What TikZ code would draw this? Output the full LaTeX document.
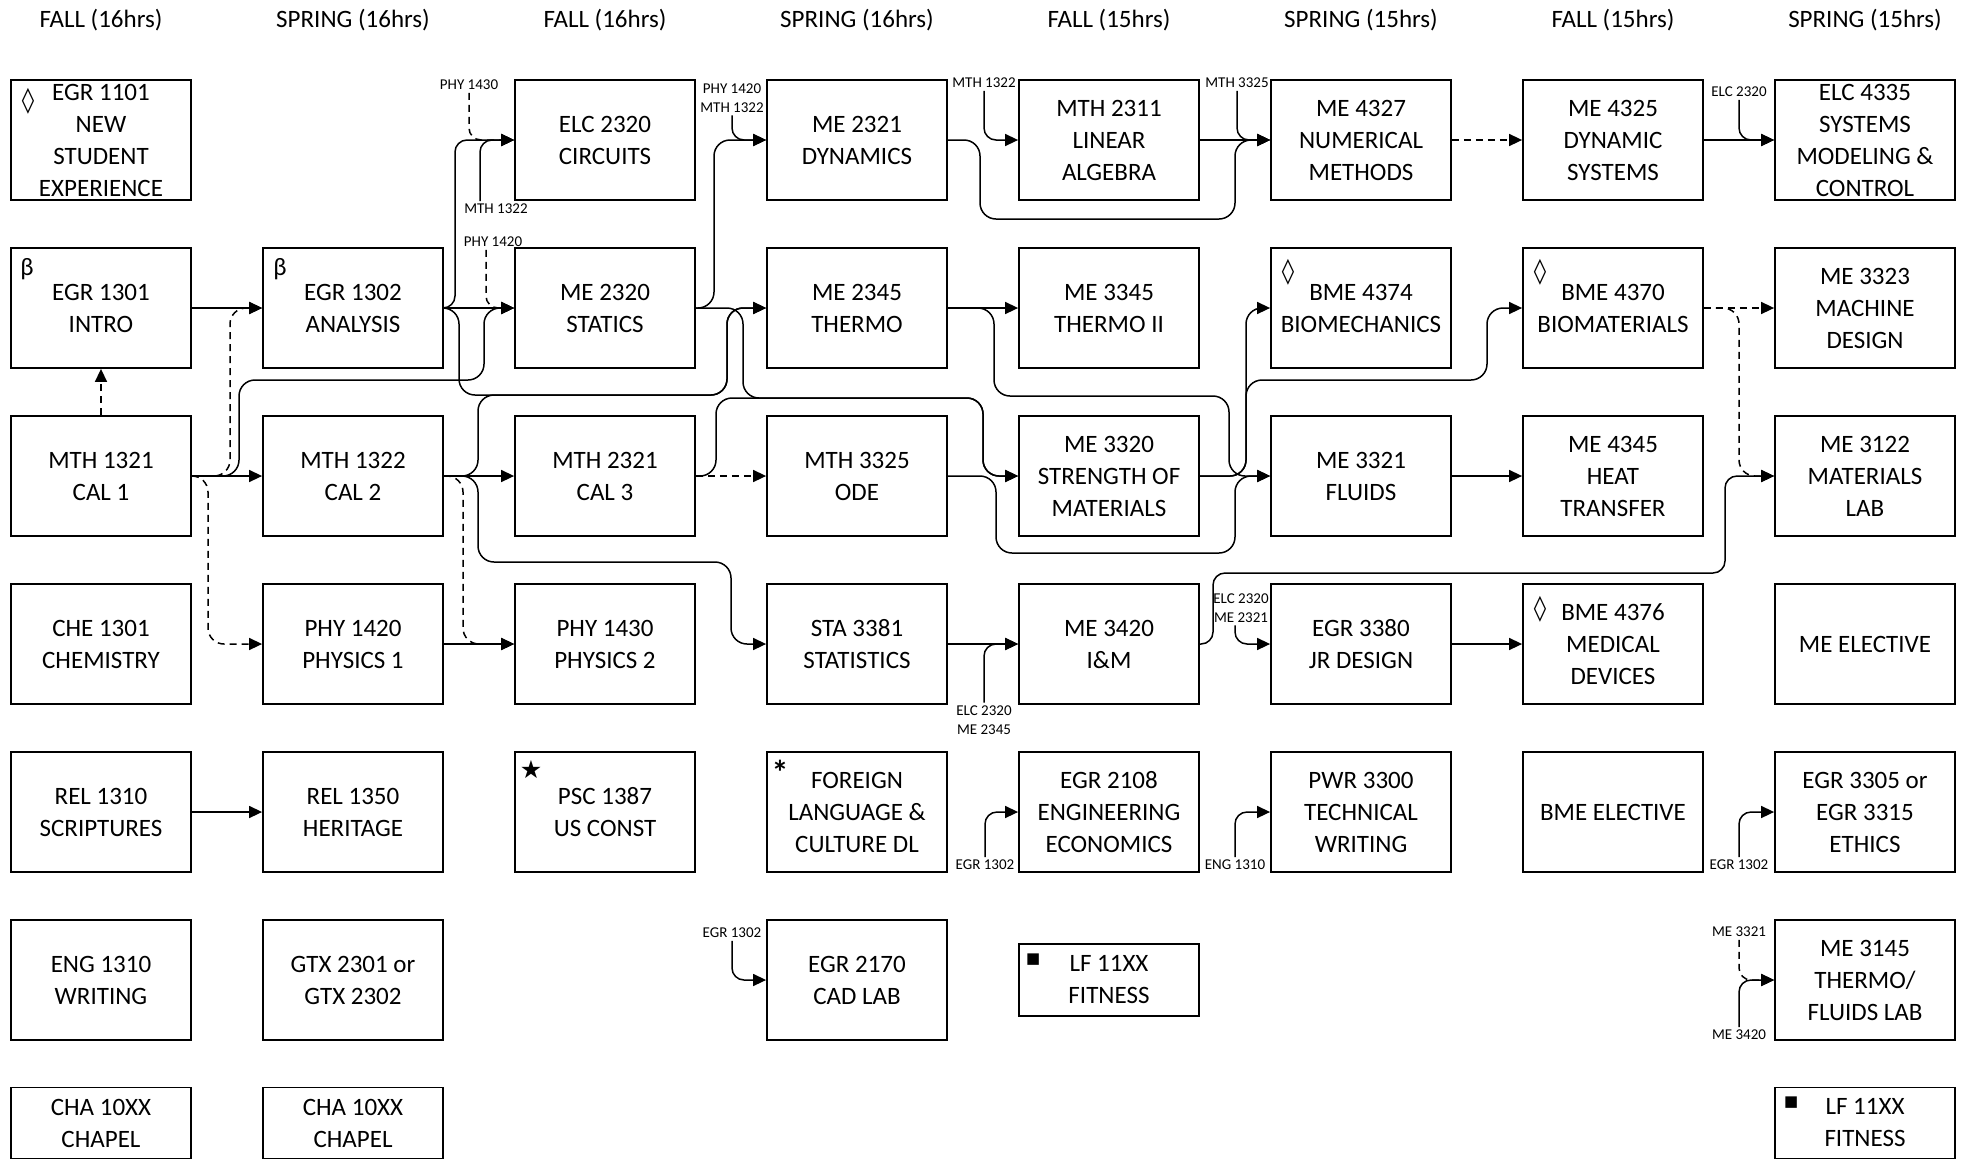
\documentclass[tikz,border=0pt]{standalone}
\usepackage{fontspec}
\setmainfont{Carlito}
\newfontfamily\symbolfont{DejaVu Sans}
\usepackage{tikz}
\usetikzlibrary{arrows.meta,positioning}

\begin{document}
\begin{tikzpicture}[x=1pt,y=-1pt,
  course/.style={draw,line width=1.8pt,minimum width=180pt,minimum height=120pt,
    inner sep=0pt,align=center,font=\fontsize{25}{32}\selectfont},
  low/.style={course,minimum height=71pt},
  term/.style={font=\fontsize{25}{30}\selectfont},
  prereq/.style={align=center,inner sep=0pt,outer sep=3pt,font=\fontsize{15}{19}\selectfont},
  icon/.style={inner sep=0pt,font=\symbolfont\bfseries\fontsize{25}{25}\selectfont},
  link/.style={line width=1.5pt,rounded corners=16pt,-{Triangle[length=13pt,width=12pt]}},
  opt/.style={link,dash pattern=on 7pt off 5pt},
  stub/.style={rounded corners=12pt}]

\useasboundingbox (0,0) rectangle (1969,1160);

% semester headings
\foreach \t [count=\i] in {FALL (16hrs),SPRING (16hrs),FALL (16hrs),SPRING (16hrs),
    FALL (15hrs),SPRING (15hrs),FALL (15hrs),SPRING (15hrs)}
  \node[term] (term\i) at ({101+252*(\i-1)},20) {\t};

% year 1
\node[course] (egr1101) at (101,140) {EGR 1101\\NEW\\STUDENT\\EXPERIENCE};
\node[course] (egr1301) at (101,308) {EGR 1301\\INTRO};
\node[course] (mth1321) at (101,476) {MTH 1321\\CAL 1};
\node[course] (che1301) at (101,644) {CHE 1301\\CHEMISTRY};
\node[course] (rel1310) at (101,812) {REL 1310\\SCRIPTURES};
\node[course] (eng1310) at (101,980) {ENG 1310\\WRITING};
\node[low] (cha1) at (101,1123) {CHA 10XX\\CHAPEL};
\node[course] (egr1302) at (353,308) {EGR 1302\\ANALYSIS};
\node[course] (mth1322) at (353,476) {MTH 1322\\CAL 2};
\node[course] (phy1420) at (353,644) {PHY 1420\\PHYSICS 1};
\node[course] (rel1350) at (353,812) {REL 1350\\HERITAGE};
\node[course] (gtx) at (353,980) {GTX 2301 or\\GTX 2302};
\node[low] (cha2) at (353,1123) {CHA 10XX\\CHAPEL};

% year 2
\node[course] (elc2320) at (605,140) {ELC 2320\\CIRCUITS};
\node[course] (me2320) at (605,308) {ME 2320\\STATICS};
\node[course] (mth2321) at (605,476) {MTH 2321\\CAL 3};
\node[course] (phy1430) at (605,644) {PHY 1430\\PHYSICS 2};
\node[course] (psc1387) at (605,812) {PSC 1387\\US CONST};
\node[course] (me2321) at (857,140) {ME 2321\\DYNAMICS};
\node[course] (me2345) at (857,308) {ME 2345\\THERMO};
\node[course] (mth3325) at (857,476) {MTH 3325\\ODE};
\node[course] (sta3381) at (857,644) {STA 3381\\STATISTICS};
\node[course] (flang) at (857,812) {FOREIGN\\LANGUAGE \&\\CULTURE DL};
\node[course] (egr2170) at (857,980) {EGR 2170\\CAD LAB};

% year 3
\node[course] (mth2311) at (1109,140) {MTH 2311\\LINEAR\\ALGEBRA};
\node[course] (me3345) at (1109,308) {ME 3345\\THERMO II};
\node[course] (me3320) at (1109,476) {ME 3320\\STRENGTH OF\\MATERIALS};
\node[course] (me3420) at (1109,644) {ME 3420\\I\&M};
\node[course] (egr2108) at (1109,812) {EGR 2108\\ENGINEERING\\ECONOMICS};
\node[course,minimum height=72pt] (lf1) at (1109,980) {LF 11XX\\FITNESS};
\node[course] (me4327) at (1361,140) {ME 4327\\NUMERICAL\\METHODS};
\node[course] (bme4374) at (1361,308) {BME 4374\\BIOMECHANICS};
\node[course] (me3321) at (1361,476) {ME 3321\\FLUIDS};
\node[course] (egr3380) at (1361,644) {EGR 3380\\JR DESIGN};
\node[course] (pwr3300) at (1361,812) {PWR 3300\\TECHNICAL\\WRITING};

% year 4
\node[course] (me4325) at (1613,140) {ME 4325\\DYNAMIC\\SYSTEMS};
\node[course] (bme4370) at (1613,308) {BME 4370\\BIOMATERIALS};
\node[course] (me4345) at (1613,476) {ME 4345\\HEAT\\TRANSFER};
\node[course] (bme4376) at (1613,644) {BME 4376\\MEDICAL\\DEVICES};
\node[course] (bmeel) at (1613,812) {BME ELECTIVE};
\node[course] (elc4335) at (1865,140) {ELC 4335\\SYSTEMS\\MODELING \&\\CONTROL};
\node[course] (me3323) at (1865,308) {ME 3323\\MACHINE\\DESIGN};
\node[course] (me3122) at (1865,476) {ME 3122\\MATERIALS\\LAB};
\node[course] (meel) at (1865,644) {ME ELECTIVE};
\node[course] (egr3305) at (1865,812) {EGR 3305 or\\EGR 3315\\ETHICS};
\node[course] (me3145) at (1865,980) {ME 3145\\THERMO/\\FLUIDS LAB};
\node[low] (lf2) at (1865,1123) {LF 11XX\\FITNESS};

% marks
\node[icon] (mk1101) at ([xshift=18pt,yshift=-22pt]egr1101.north west) {◊};
\node[inner sep=0pt,font=\fontsize{25}{25}\selectfont] (mk1301) at ([xshift=17pt,yshift=-22pt]egr1301.north west) {β};
\node[inner sep=0pt,font=\fontsize{25}{25}\selectfont] (mk1302) at ([xshift=18pt,yshift=-22pt]egr1302.north west) {β};
\node[icon] (mk4374) at ([xshift=18pt,yshift=-25pt]bme4374.north west) {◊};
\node[icon] (mk4370) at ([xshift=18pt,yshift=-25pt]bme4370.north west) {◊};
\node[icon] (mk4376) at ([xshift=18pt,yshift=-26pt]bme4376.north west) {◊};
\node[icon,font=\symbolfont\fontsize{25}{25}\selectfont] (mk1387) at ([xshift=17pt,yshift=-18pt]psc1387.north west) {★};
\node[inner sep=0pt,font=\bfseries\fontsize{34}{34}\selectfont] (mkfl) at ([xshift=14pt,yshift=-21pt]flang.north west) {*};
\node[icon,font=\symbolfont\fontsize{15}{15}\selectfont] (mklf1) at ([xshift=15pt,yshift=-16pt]lf1.north west) {■};
\node[icon,font=\symbolfont\fontsize{15}{15}\selectfont] (mklf2) at ([xshift=17pt,yshift=-16pt]lf2.north west) {■};

% outside prerequisites
\node[prereq] (pre1) at (469,85) {PHY 1430};
\node[prereq] (pre2) at (496,209) {MTH 1322};
\node[prereq] (pre3) at (493,242) {PHY 1420};
\node[prereq] (pre4) at (732,98) {PHY 1420\\MTH 1322};
\node[prereq] (pre5) at (984,83) {MTH 1322};
\node[prereq] (pre6) at (1237,83) {MTH 3325};
\node[prereq] (pre7) at (1739,92) {ELC 2320};
\node[prereq] (pre8) at (984,720) {ELC 2320\\ME 2345};
\node[prereq] (pre9) at (1241,608) {ELC 2320\\ME 2321};
\node[prereq] (pre10) at (985,865) {EGR 1302};
\node[prereq] (pre11) at (1235,865) {ENG 1310};
\node[prereq] (pre12) at (1739,865) {EGR 1302};
\node[prereq] (pre13) at (1739,932) {ME 3321};
\node[prereq] (pre14) at (1739,1035) {ME 3420};
\node[prereq] (pre15) at (732,933) {EGR 1302};

\draw[opt,stub] (pre1.south) |- (elc2320.west);
\draw[link,stub] ([xshift=-16pt]pre2.north) |- (elc2320.west);
\draw[opt,stub] ([xshift=-7pt]pre3.south) |- (me2320.west);
\draw[link,stub] (pre4.south) |- (me2321.west);
\draw[link,stub] (pre5.south) |- (mth2311.west);
\draw[link,stub] (pre6.south) |- (me4327.west);
\draw[link,stub] (pre7.south) |- (elc4335.west);
\draw[link,stub] (pre8.north) |- (me3420.west);
\draw[link,stub] ([xshift=-6pt]pre9.south) |- (egr3380.west);
\draw[link,stub] (pre10.north) |- (egr2108.west);
\draw[link,stub] (pre11.north) |- (pwr3300.west);
\draw[link,stub] (pre12.north) |- (egr3305.west);
\draw[opt,stub] (pre13.south) |- (me3145.west);
\draw[link,stub] (pre14.north) |- (me3145.west);
\draw[link,stub] (pre15.south) |- (egr2170.west);

% year 1 links
\draw[link] (egr1301) -- (egr1302);
\draw[opt] (mth1321) -- (egr1301);
\draw[link] (mth1321) -- (mth1322);
\draw[opt] (mth1321.east) -| (230,308) -- (egr1302.west);
\draw[link] (mth1321.east) -| (239,380) -| (484,308) -- (me2320.west);
\draw[opt] (mth1321.east) -| (208,644) -- (phy1420.west);
\draw[link] (rel1310) -- (rel1350);
\draw[link] (egr1302) -- (me2320);
\draw[link,rounded corners=12pt] (egr1302.east) -| (455,140) -- (elc2320.west);
\draw[link] (egr1302.east) -| (459,395) -| (727,308) -- (me2345.west);
\draw[link] (mth1322.east) -| (478,395) -| (727,308) -- (me2345.west);
\draw[link] (mth1322) -- (mth2321);
\draw[link] (mth1322.east) -| (478,562) -| (731,644) -- (sta3381.west);
\draw[opt] (mth1322.east) -| (463,644) -- (phy1430.west);
\draw[link] (phy1420) -- (phy1430);

% year 2 links
\draw[link] (me2320.east) -| (714,140) -- (me2321.west);
\draw[link] (me2320.east) -| (743,398) -| (983,476) -- (me3320.west);
\draw[link] (mth2321.east) -| (716,398) -| (983,476) -- (me3320.west);
\draw[opt] (mth2321) -- (mth3325);
\draw[link] (me2321.east) -| (980,219) -| (1235,140) -- (me4327.west);
\draw[link] (me2345) -- (me3345);
\draw[link] (me2345.east) -| (994,396) -| (1229,476) -- (me3321.west);
\draw[link] (mth3325.east) -| (996,553) -| (1235,476) -- (me3321.west);
\draw[link] (sta3381) -- (me3420);

% year 3 links
\draw[link] (mth2311) -- (me4327);
\draw[link] (me3320.east) -| (1246,308) -- (bme4374.west);
\draw[link] (me3320.east) -| (1246,380) -| (1487,308) -- (bme4370.west);
\draw[link] (me3321) -- (me4345);
\draw[link,rounded corners=12pt] (me3420.east) -| (1213,573) -| (1725,476) -- (me3122.west);
\draw[link] (egr3380) -- (bme4376);
\draw[opt] (me4327) -- (me4325);

% year 4 links
\draw[link] (me4325) -- (elc4335);
\draw[opt] (bme4370) -- (me3323);
\draw[opt] (bme4370.east) -| (1739,476) -- (me3122.west);
\end{tikzpicture}
\end{document}
